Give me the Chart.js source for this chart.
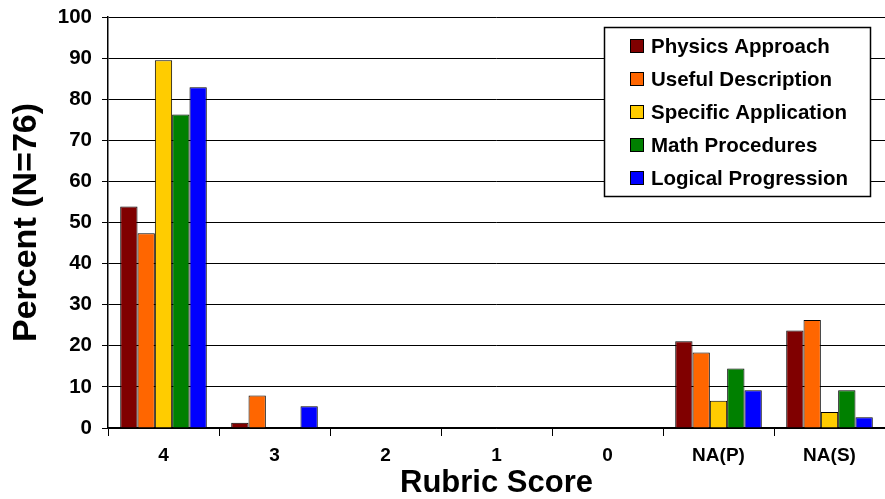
<!DOCTYPE html>
<html>
<head>
<meta charset="utf-8">
<script src="https://cdn.jsdelivr.net/npm/chart.js@4"></script>
<style>
    body { margin: 0; background: #fff; }
    #wrap { width: 885px; height: 499px; }
</style>
</head>
<body>
<div id="wrap"><canvas id="rubricChart"></canvas></div>
<script>
// Chart data
const categories = ['4', '3', '2', '1', '0', 'NA(P)', 'NA(S)'];
const seriesNames = ['Physics Approach', 'Useful Description', 'Specific Application', 'Math Procedures', 'Logical Progression'];
const physicsApproach = [53.9, 1.3, 0, 0, 0, 21.1, 23.7];
const usefulDescription = [47.4, 7.9, 0, 0, 0, 18.4, 26.3];
const specificApplication = [89.5, 0, 0, 0, 0, 6.6, 3.9];
const mathProcedures = [76.3, 0, 0, 0, 0, 14.5, 9.2];
const logicalProgression = [82.9, 5.3, 0, 0, 0, 9.2, 2.6];
const yTicks = [0, 10, 20, 30, 40, 50, 60, 70, 80, 90, 100];

const seriesValues = [physicsApproach, usefulDescription, specificApplication, mathProcedures, logicalProgression];
const seriesColors = ['#800000', '#FF6600', '#FFCC00', '#008000', '#0000FF'];

const FONT = "'Liberation Sans', Arial, sans-serif";

// Legend box drawn inside the plot, like the original
const boxLegend = {
    id: 'boxLegend',
    afterDraw(chart) {
        const ctx = chart.ctx;
        const x = 604, y = 27, w = 266, h = 169;
        ctx.save();
        ctx.fillStyle = '#fff';
        ctx.fillRect(x, y, w, h);
        ctx.strokeStyle = '#000';
        ctx.lineWidth = 1.5;
        ctx.strokeRect(x + 0.5, y + 0.5, w, h);
        ctx.font = 'bold 20.5px ' + FONT;
        ctx.textBaseline = 'middle';
        chart.data.datasets.forEach((ds, i) => {
            const rowY = y + 19 + i * 33;
            ctx.fillStyle = ds.backgroundColor;
            ctx.fillRect(x + 26, rowY - 7, 14, 14);
            ctx.strokeStyle = '#000';
            ctx.lineWidth = 1;
            ctx.strokeRect(x + 26.5, rowY - 6.5, 13, 13);
            ctx.fillStyle = '#000';
            ctx.fillText(ds.label, x + 47, rowY + 1);
        });
        ctx.restore();
    }
};

const ctx = document.getElementById('rubricChart').getContext('2d');

new Chart(ctx, {
    type: 'bar',
    data: {
        labels: categories,
        datasets: seriesNames.map((name, i) => ({
            label: name,
            data: seriesValues[i],
            backgroundColor: seriesColors[i],
            borderColor: '#000',
            borderWidth: 1,
            categoryPercentage: 0.78,
            barPercentage: 1.0
        }))
    },
    options: {
        responsive: true,
        maintainAspectRatio: false,
        animation: false,
        layout: {
            padding: { top: 17, right: 0, bottom: 0, left: 0 }
        },
        scales: {
            y: {
                min: 0,
                max: 100,
                afterBuildTicks: scale => {
                    scale.ticks = yTicks.map(v => ({ value: v }));
                },
                afterFit: scale => {
                    scale.width = 108;
                    scale.paddingTop = 0;
                    scale.paddingBottom = 0;
                },
                ticks: {
                    color: '#000',
                    padding: 10,
                    font: { family: FONT, size: 20.5, weight: 'bold' }
                },
                grid: {
                    color: '#000',
                    lineWidth: 1,
                    tickLength: 6
                },
                border: { color: '#000', width: 1.5 },
                title: {
                    display: true,
                    text: 'Percent (N=76)',
                    color: '#000',
                    font: { family: FONT, size: 34, weight: 'bold' },
                    padding: { top: 6, bottom: 0 }
                }
            },
            x: {
                afterFit: scale => {
                    scale.height = 71;
                },
                ticks: {
                    color: '#000',
                    padding: 8,
                    font: { family: FONT, size: 19, weight: 'bold' }
                },
                grid: {
                    color: '#000',
                    drawOnChartArea: false,
                    drawTicks: true,
                    tickLength: 8,
                    offset: true
                },
                border: { color: '#000', width: 1.5 },
                title: {
                    display: true,
                    text: 'Rubric Score',
                    color: '#000',
                    font: { family: FONT, size: 31, weight: 'bold', lineHeight: 1.0 },
                    padding: { top: 0, bottom: 0 }
                }
            }
        },
        plugins: {
            legend: { display: false },
            tooltip: { enabled: false }
        }
    },
    plugins: [boxLegend]
});
</script>
</body>
</html>
